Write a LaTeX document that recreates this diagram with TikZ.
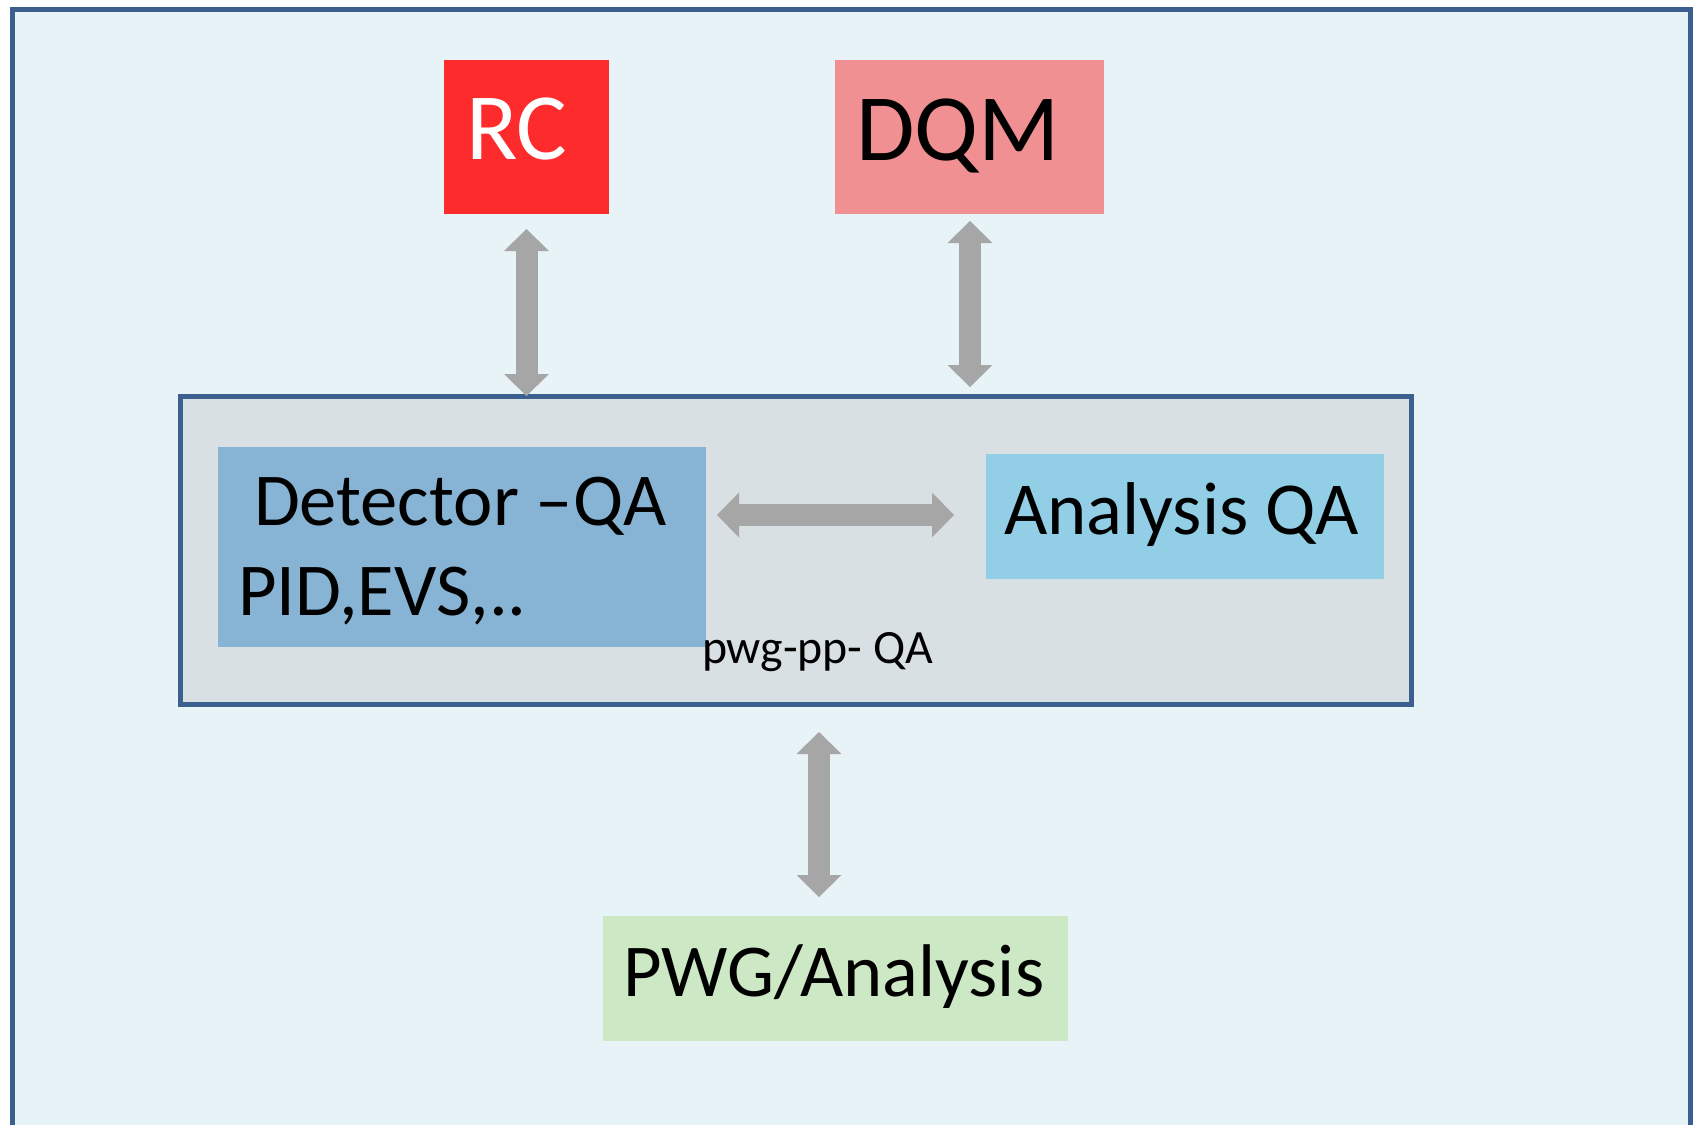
\documentclass[tikz,border=0pt]{standalone}
\usepackage{fontspec}
\setmainfont{Carlito}
\usetikzlibrary{arrows.meta,calc}
\definecolor{framecol}{HTML}{3B5F8E}
\definecolor{bgblue}{HTML}{E8F3F8}
\definecolor{innerfill}{HTML}{D8E0E3}
\definecolor{rcred}{HTML}{FE2B2D}
\definecolor{dqmpink}{HTML}{F09092}
\definecolor{detblue}{HTML}{87B4D4}
\definecolor{anablue}{HTML}{92CFE7}
\definecolor{pwggreen}{HTML}{CDE8C4}
\definecolor{arrowgray}{HTML}{A6A6A6}
\begin{document}
\begin{tikzpicture}[x=0.5pt,y=-0.5pt,
  blk/.style={draw=none, inner sep=0pt, outer sep=0pt},
  lbl/.style={inner sep=0pt, outer sep=0pt, anchor=base west},
  bigarrow/.style={draw=arrowgray, line width=11pt,
    {Triangle[width=22.5pt,length=11pt,line width=0pt]}-{Triangle[width=22.5pt,length=11pt,line width=0pt]}},
]
\useasboundingbox (0,0) rectangle (1694,1125);
\fill[white] (0,0) rectangle (1694,1125);
% outer frame
\path[fill=bgblue, draw=framecol, line width=2.5pt] (12.5,1160) -- (12.5,9) -- (1690.5,9) -- (1690.5,1160);
% boxes
\node[blk, fill=rcred, minimum width=82.5pt, minimum height=77pt] (rc) at (526.5,137) {};
\node[blk, fill=dqmpink, minimum width=134.5pt, minimum height=77pt] (dqm) at (969.5,137) {};
\node[blk, fill=innerfill, draw=framecol, line width=2.5pt, minimum width=615.75pt, minimum height=154.25pt] (inner) at (795.75,550.25) {};
\node[blk, fill=detblue, minimum width=244pt, minimum height=100pt] (det) at (462,547) {};
\node[blk, fill=anablue, minimum width=199pt, minimum height=62.5pt] (ana) at (1185,516.5) {};
\node[blk, fill=pwggreen, minimum width=232.5pt, minimum height=62.5pt] (pwg) at (835.5,978.5) {};
% labels
\node[lbl, text=white, font=\fontsize{47.5}{50}\selectfont] (rct) at (466,159) {RC};
\node[lbl, font=\fontsize{47.5}{50}\selectfont] (dqmt) at (856,160) {DQM};
\node[lbl, font=\fontsize{37.3}{40}\selectfont] (dett1) at (254,525) {Detector –QA};
\node[lbl, font=\fontsize{37.3}{40}\selectfont] (dett2) at (238,615) {PID,EVS,..};
\node[lbl, font=\fontsize{37.4}{40}\selectfont] (anat) at (1004,534) {Analysis QA};
\node[lbl, font=\fontsize{37.3}{40}\selectfont] (pwgt) at (623,996) {PWG/Analysis};
\node[lbl, font=\fontsize{23.9}{26}\selectfont] (ppt) at (702,663) {pwg-pp- QA};
% connectors
\coordinate (a1s) at ($(rc.south)+(0,15)$);
\coordinate (a1e) at (inner.north -| rc.south);
\draw[bigarrow] (a1s) -- (a1e);
\coordinate (a2s) at ($(dqm.south)+(0.5,7)$);
\coordinate (a2e) at ($(inner.north -| a2s)+(0,-9)$);
\draw[bigarrow] (a2s) -- (a2e);
\coordinate (a3s) at ($(det.east)+(11,-32)$);
\coordinate (a3e) at ($(ana.west |- a3s)+(-32,0)$);
\draw[bigarrow] (a3s) -- (a3e);
\coordinate (a4s) at ($(inner.south)+(23.25,27.5)$);
\coordinate (a4e) at ($(pwg.north -| a4s)+(0,-19)$);
\draw[bigarrow] (a4s) -- (a4e);
\end{tikzpicture}
\end{document}
